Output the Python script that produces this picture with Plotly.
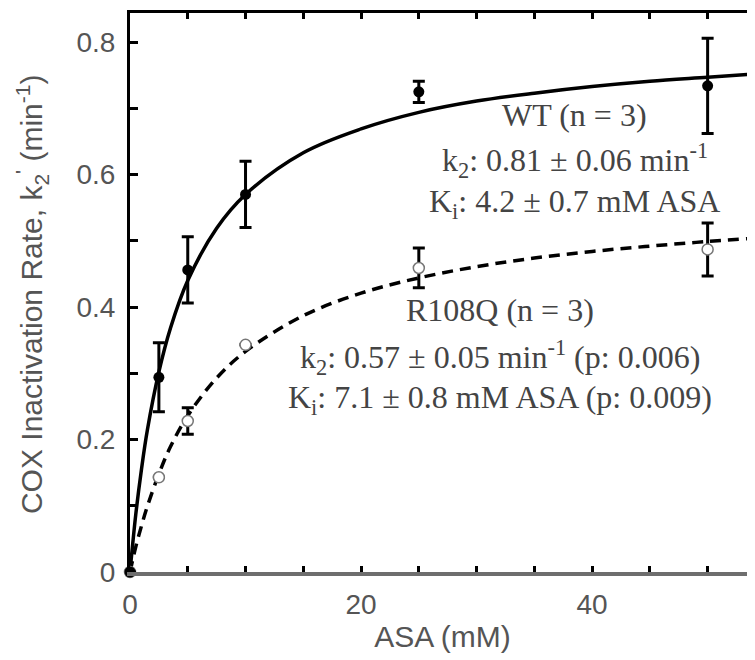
import plotly.graph_objects as go

asa_wt = [0, 2.5, 5, 10, 25, 50]
rate_wt = [0.0, 0.294, 0.456, 0.570, 0.725, 0.734]
err_wt = [0.0, 0.052, 0.050, 0.050, 0.016, 0.072]

asa_mut = [0, 2.5, 5, 10, 25, 50]
rate_mut = [0.0, 0.143, 0.228, 0.343, 0.459, 0.487]
err_mut = [0.0, 0.0, 0.020, 0.0, 0.030, 0.040]

# Fitted curves
curve_x = [0, 0.5, 1, 1.5, 2.5, 3.5, 5, 7.5, 10, 15, 20, 25, 30, 35, 40, 45, 50, 55]
curve_wt = [0.0, 0.087, 0.156, 0.214, 0.302, 0.368, 0.440, 0.519, 0.570, 0.633,
            0.669, 0.694, 0.711, 0.723, 0.733, 0.741, 0.747, 0.753]
curve_mut = [0.0, 0.038, 0.070, 0.099, 0.148, 0.189, 0.236, 0.293, 0.333, 0.387,
             0.421, 0.444, 0.461, 0.474, 0.484, 0.492, 0.499, 0.505]

x_ticks = [0, 20, 40]
y_ticks = [0, 0.2, 0.4, 0.6, 0.8]
y_tick_text = ["0", "0.2", "0.4", "0.6", "0.8"]

x_title = "ASA (mM)"
y_title = "COX Inactivation Rate, k<sub>2</sub><sup>'</sup> (min<sup>-1</sup>)"

wt_text = ["WT (n = 3)",
           "k<sub>2</sub>: 0.81 ± 0.06 min<sup>-1</sup>",
           "K<sub>i</sub>: 4.2 ± 0.7 mM ASA"]
mut_text = ["R108Q (n = 3)",
            "k<sub>2</sub>: 0.57 ± 0.05 min<sup>-1</sup> (p: 0.006)",
            "K<sub>i</sub>: 7.1 ± 0.8 mM ASA (p: 0.009)"]

fig = go.Figure()

fig.add_trace(go.Scatter(x=curve_x, y=curve_wt, mode="lines", line=dict(color="black", width=3.5, shape="spline"),
                         showlegend=False, hoverinfo="skip"))
fig.add_trace(go.Scatter(x=curve_x, y=curve_mut, mode="lines",
                         line=dict(color="black", width=3.5, dash="11px,7px", shape="spline"),
                         showlegend=False, hoverinfo="skip"))

fig.add_trace(go.Scatter(x=asa_mut, y=rate_mut, mode="markers",
                         marker=dict(symbol="circle", size=11, color="white", line=dict(color="#777", width=1.5)),
                         error_y=dict(type="data", array=err_mut, color="black", thickness=3, width=6),
                         showlegend=False, cliponaxis=False))
fig.add_trace(go.Scatter(x=asa_wt, y=rate_wt, mode="markers",
                         marker=dict(symbol="circle", size=11, color="black"),
                         error_y=dict(type="data", array=err_wt, color="black", thickness=3, width=6),
                         showlegend=False, cliponaxis=False))

# Dummy trace for top/right frame axes
fig.add_trace(go.Scatter(x=[None], y=[None], xaxis="x2", yaxis="y2", showlegend=False))

sans = "Liberation Sans, Arial, sans-serif"
tick_font = dict(family=sans, size=28, color="#555")

fig.update_layout(
    width=747, height=652,
    margin=dict(l=122, r=0, t=5, b=88),
    plot_bgcolor="white", paper_bgcolor="white",
    xaxis=dict(range=[0, 54.1], tickvals=x_ticks, ticks="inside", ticklen=6, tickwidth=3, tickcolor="black",
               showline=True, linecolor="#6e6e6e", linewidth=4, showgrid=False, zeroline=False, automargin=False,
               minor=dict(dtick=5, tick0=0, ticks="inside", ticklen=6, tickwidth=3, tickcolor="black", showgrid=False),
               tickfont=tick_font, ticklabelstandoff=4,
               title=dict(text=x_title, font=dict(family=sans, size=30, color="#555"), standoff=8)),
    yaxis=dict(range=[0, 0.844], tickvals=y_ticks, ticktext=y_tick_text, ticks="inside", ticklen=8, tickwidth=3,
               tickcolor="black", showline=True, linecolor="black", linewidth=3, showgrid=False, zeroline=False,
               automargin=False,
               minor=dict(dtick=0.1, tick0=0, ticks="inside", ticklen=8, tickwidth=3, tickcolor="black", showgrid=False),
               tickfont=tick_font, ticklabelstandoff=6),
    xaxis2=dict(overlaying="x", side="top", matches="x", anchor="y", ticks="inside", ticklen=6, tickwidth=3,
                tickcolor="black", dtick=5, tick0=0, showticklabels=False, showline=True, linecolor="black",
                linewidth=3, showgrid=False, zeroline=False, automargin=False),
    yaxis2=dict(overlaying="y", side="right", matches="y", anchor="x", ticks="inside", ticklen=6, tickwidth=3,
                tickcolor="black", dtick=0.1, tick0=0, showticklabels=False, showline=False, showgrid=False,
                zeroline=False, automargin=False),
)

# Y axis title placed as rotated text to the left of the tick labels
fig.add_annotation(xref="paper", yref="paper", x=-0.157, y=0.497, text=y_title, textangle=-90,
                   showarrow=False, xanchor="center", yanchor="middle",
                   font=dict(family=sans, size=30, color="#555"))

ann_font = dict(family="Liberation Serif, Times New Roman, serif", size=32, color="#444")
wt_y = [0.690, 0.622, 0.556]
mut_y = [0.395, 0.324, 0.260]
for t, yy in zip(wt_text, wt_y):
    fig.add_annotation(x=38.5, y=yy, text=t, showarrow=False, font=ann_font, xanchor="center", yanchor="middle")
for t, yy in zip(mut_text, mut_y):
    fig.add_annotation(x=32.0, y=yy, text=t, showarrow=False, font=ann_font, xanchor="center", yanchor="middle")

fig.write_html("out.html")
